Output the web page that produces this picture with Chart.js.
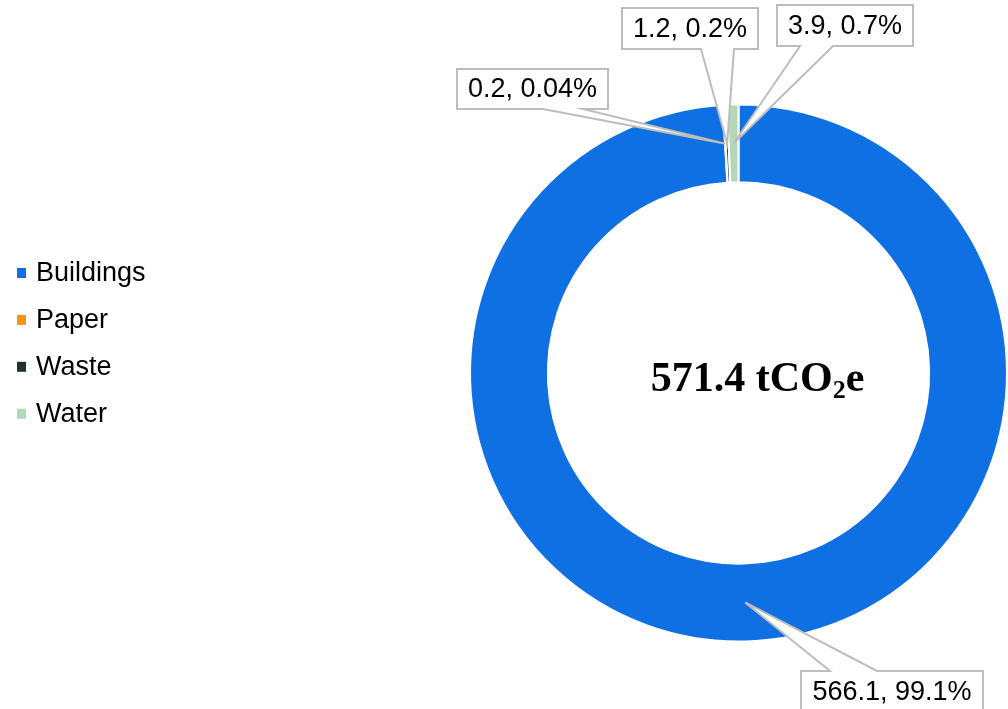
<!DOCTYPE html>
<html>
<head>
<meta charset="utf-8">
<script src="https://cdn.jsdelivr.net/npm/chart.js@4"></script>
<style>
  html, body { margin: 0; padding: 0; background: #fff; }
</style>
</head>
<body>
<canvas id="emissionsChart" width="1008" height="709"></canvas>
<script>
// data
const categories = ['Buildings', 'Paper', 'Waste', 'Water'];
const emissions = [566.1, 0.2, 1.2, 3.9];
const shareLabels = ['99.1%', '0.04%', '0.2%', '0.7%'];
const colors = ['#0E70E2', '#F7931E', '#1E3433', '#B4D7B9'];
const unitLabel = 'tCO';

// where the callout boxes sit (a, b = wedge base along the box edge)
const calloutBoxes = [
  { x: 801, y: 671, w: 182, h: 42, side: 'top', a: 29, b: 76 },
  { x: 457, y: 69, w: 151, h: 40, side: 'bottom', a: 86, b: 126 },
  { x: 622, y: 8, w: 136, h: 41, side: 'bottom', a: 79, b: 112 },
  { x: 777, y: 5, w: 136, h: 41, side: 'bottom', a: 23, b: 56 }
];

const labelFont = '27px "Liberation Sans", Arial, sans-serif';

// legend on the left
const sideLegend = {
  id: 'sideLegend',
  afterDraw(chart) {
    const ctx = chart.ctx;
    const ds = chart.data.datasets[0];
    ctx.save();
    ctx.font = labelFont;
    ctx.textBaseline = 'middle';
    chart.data.labels.forEach((lab, i) => {
      const y = 273 + i * 46.9;
      ctx.fillStyle = ds.backgroundColor[i];
      ctx.fillRect(17, y - 5, 9, 10);
      ctx.fillStyle = '#000';
      ctx.fillText(lab, 36, y + 1);
    });
    ctx.restore();
  }
};

// callouts "value, share" with a pointer into each slice
const callouts = {
  id: 'callouts',
  afterDraw(chart) {
    const ctx = chart.ctx;
    const meta = chart.getDatasetMeta(0);
    ctx.save();
    meta.data.forEach((arc, i) => {
      const p = arc.getCenterPoint();
      const bx = calloutBoxes[i];
      const { x, y, w, h, a, b } = bx;
      ctx.beginPath();
      if (bx.side === 'top') {
        ctx.moveTo(x, y);
        ctx.lineTo(x + a, y);
        ctx.lineTo(p.x, p.y);
        ctx.lineTo(x + b, y);
        ctx.lineTo(x + w, y);
        ctx.lineTo(x + w, y + h);
        ctx.lineTo(x, y + h);
      } else {
        ctx.moveTo(x, y);
        ctx.lineTo(x + w, y);
        ctx.lineTo(x + w, y + h);
        ctx.lineTo(x + b, y + h);
        ctx.lineTo(p.x, p.y);
        ctx.lineTo(x + a, y + h);
        ctx.lineTo(x, y + h);
      }
      ctx.closePath();
      ctx.fillStyle = '#fff';
      ctx.fill();
      ctx.strokeStyle = '#BDBDBD';
      ctx.lineWidth = 2;
      ctx.lineJoin = 'miter';
      ctx.stroke();

      ctx.font = labelFont;
      ctx.fillStyle = '#000';
      ctx.textAlign = 'center';
      ctx.textBaseline = 'middle';
      const val = chart.data.datasets[0].data[i];
      ctx.fillText(val.toFixed(1) + ', ' + shareLabels[i], x + w / 2, y + h / 2 + 1);
    });
    ctx.restore();
  }
};

// total in the hole
const centerTotal = {
  id: 'centerTotal',
  afterDraw(chart) {
    const ctx = chart.ctx;
    const area = chart.chartArea;
    const total = chart.data.datasets[0].data.reduce((s, v) => s + v, 0);
    const big = 'bold 42px "Liberation Serif", "Times New Roman", serif';
    const small = 'bold 26px "Liberation Serif", "Times New Roman", serif';
    const part1 = total.toFixed(1) + ' ' + unitLabel;
    ctx.save();
    ctx.fillStyle = '#000';
    ctx.textBaseline = 'alphabetic';
    ctx.font = big;
    const w1 = ctx.measureText(part1).width;
    const we = ctx.measureText('e').width;
    ctx.font = small;
    const w2 = ctx.measureText('2').width;
    const cx = (area.left + area.right) / 2 + 19;
    let x = cx - (w1 + w2 + we) / 2;
    const base = 391;
    ctx.font = big;
    ctx.fillText(part1, x, base);
    x += w1;
    ctx.font = small;
    ctx.fillText('2', x, base + 7);
    x += w2;
    ctx.font = big;
    ctx.fillText('e', x, base);
    ctx.restore();
  }
};

const ctx = document.getElementById('emissionsChart').getContext('2d');
new Chart(ctx, {
  type: 'doughnut',
  data: {
    labels: categories,
    datasets: [{
      data: emissions,
      backgroundColor: colors,
      borderColor: '#ffffff',
      borderWidth: 2
    }]
  },
  options: {
    responsive: false,
    animation: false,
    cutout: '71%',
    layout: { padding: { left: 469, right: 0, top: 103, bottom: 66 } },
    plugins: {
      legend: { display: false },
      tooltip: { enabled: false }
    }
  },
  plugins: [sideLegend, callouts, centerTotal]
});
</script>
</body>
</html>
